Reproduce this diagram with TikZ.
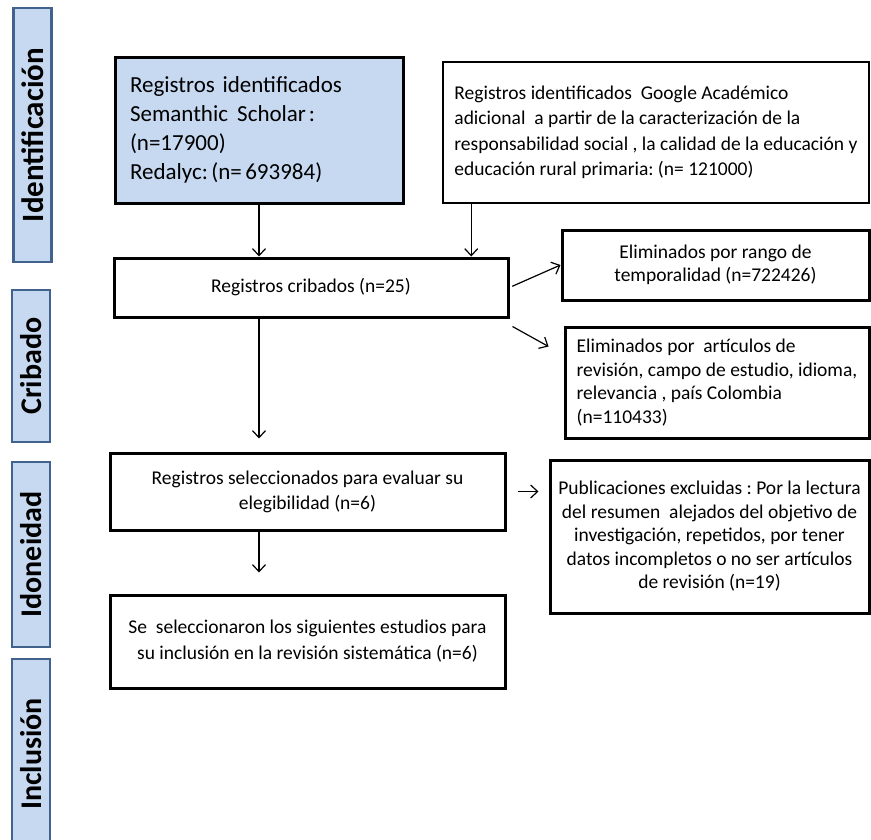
\documentclass[tikz,border=0pt]{standalone}
\usepackage{fontspec}
\setmainfont{Carlito}
\usetikzlibrary{arrows.meta}
\definecolor{phasefill}{HTML}{C6D9F1}
\definecolor{phaseline}{HTML}{41628C}
\definecolor{boxfill}{HTML}{C6D9F1}
\begin{document}
\frenchspacing
\begin{tikzpicture}[x=1pt,y=-1pt,
  box/.style={draw=black, line width=3pt, inner sep=0pt, align=center, font=\fontsize{19.5}{23.5}\selectfont},
  thinbox/.style={box, line width=1.5pt},
  phase/.style={draw=phaseline, fill=phasefill, line width=2.5pt, inner sep=0pt, minimum width=38pt, font=\bfseries\fontsize{30}{32}\selectfont},
  arr/.style={line width=1.2pt, -{Straight Barb[length=7pt,width=13pt]}}
]
\useasboundingbox (0,0) rectangle (871,839);

% phase labels
\node[phase, minimum height=254, font=\bfseries\fontsize{31}{33}\selectfont] (P1) at (32.5,135) {\rotatebox{90}{Identificación}};
\node[phase, minimum height=152] (P2) at (31,366) {\rotatebox{90}{Cribado}};
\node[phase, minimum height=185] (P3) at (31,554.5) {\rotatebox{90}{Idoneidad}};
\node[phase, minimum height=190] (P4) at (31,754) {\rotatebox{90}{Inclusión}};

% boxes
\node[box, fill=boxfill, minimum width=288, minimum height=146, text width=258, align=left, font=\fontsize{23}{29}\selectfont] (A) at (259,130)
  {Registros identificados\\Semanthic\hspace{0.4em}Scholar\hspace{0.12em}:\\(n=17900)\\Redalyc:\hspace{0.15em}(n=\hspace{0.15em}693984)};
\node[thinbox, minimum width=426, minimum height=141, align=left, font=\fontsize{19.5}{25.5}\selectfont] (B) at (656,132.5)
  {Registros identificados\ \ Google Académico\\adicional\ \ a partir de la caracterización de la\\responsabilidad social , la calidad de la educación y\\educación rural primaria: (n= 121000)};
\node[box, minimum width=394, minimum height=59] (C) at (311,287.5) {Registros cribados (n=25)};
\node[box, minimum width=307, minimum height=70] (E) at (715.5,265) {Eliminados por rango de\\temporalidad (n=722426)};
\node[box, minimum width=304, minimum height=111, align=left] (F) at (717,382.5)
  {Eliminados por\ \ artículos de\\revisión, campo de estudio, idioma,\\relevancia , país Colombia\\(n=110433)};
\node[box, minimum width=395, minimum height=77, font=\fontsize{19.5}{25}\selectfont] (D) at (307.5,491.5)
  {Registros seleccionados para evaluar su\\elegibilidad (n=6)};
\node[box, minimum width=395, minimum height=93, font=\fontsize{19.5}{26}\selectfont] (G) at (307.5,641.5)
  {Se\ \ seleccionaron los siguientes estudios para\\su inclusión en la revisión sistemática (n=6)};
\node[box, minimum width=319, minimum height=153] (H) at (709.5,536.5)
  {Publicaciones excluidas : Por la lectura\\del resumen\ \ alejados del objetivo de\\investigación, repetidos, por tener\\datos incompletos o no ser artículos\\de revisión (n=19)};

% connectors
\draw[arr] (A.south) -- (A.south |- C.north);
\path (B.south west) ++(29,0) coordinate (b1);
\draw[arr] (b1) -- (b1 |- C.north);
\draw[arr, shorten >=13pt] (A.south |- C.south) -- (A.south |- D.north);
\draw[arr, shorten >=21pt] (A.south |- D.south) -- (A.south |- G.north);
\draw[arr, shorten <=3pt] (C.east) -- (E.west);
\draw[arr] ([shift={(3,8)}]C.south east) -- ([shift={(-15,21)}]F.north west);
\draw[arr, shorten <=11pt, shorten >=10pt] (D.east) -- (D.east -| H.west);
\end{tikzpicture}
\end{document}
